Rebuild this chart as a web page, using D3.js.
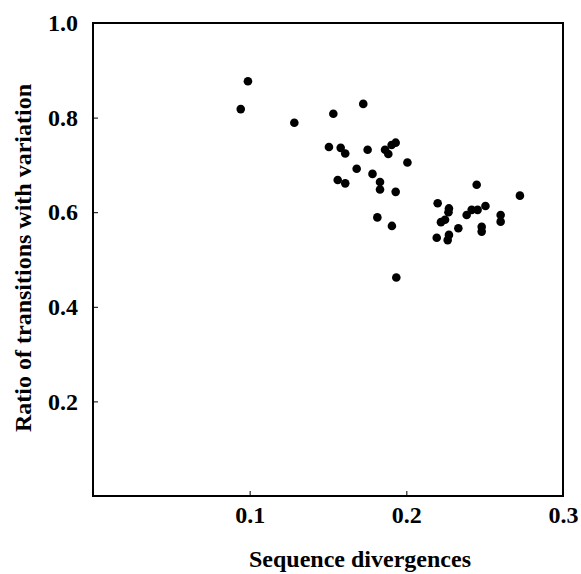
<!DOCTYPE html>
<html><head><meta charset="utf-8">
<script src="https://cdn.jsdelivr.net/npm/d3@7"></script>
<style>body{margin:0;background:#fff}</style>
</head><body>
<svg id="c" width="581" height="574"></svg>
<script>
const xTicks = [0.1, 0.2, 0.3];
const yTicks = [0.2, 0.4, 0.6, 0.8, 1.0];
const divergence = [0.0943,0.0989,0.1285,0.1534,0.1725,0.1506,0.1581,0.1610,0.1753,0.1864,0.1885,0.1906,0.1932,0.2007,0.1683,0.1784,0.1562,0.1610,0.1832,0.1832,0.1932,0.1815,0.1908,0.1936,0.2200,0.2272,0.2269,0.2247,0.2221,0.2385,0.2417,0.2455,0.2505,0.2449,0.2725,0.2602,0.2602,0.2481,0.2481,0.2332,0.2272,0.2264,0.2194];
const ratio = [0.818,0.877,0.789,0.808,0.829,0.738,0.736,0.724,0.732,0.732,0.723,0.742,0.747,0.705,0.692,0.681,0.668,0.661,0.664,0.648,0.643,0.589,0.571,0.462,0.619,0.608,0.600,0.584,0.579,0.594,0.605,0.605,0.613,0.658,0.635,0.594,0.580,0.569,0.559,0.566,0.552,0.541,0.546];

const svg = d3.select("#c");
const L = 93, R = 563, T = 23, B = 496;
const x = d3.scaleLinear().domain([0, 0.3]).range([L, R]);
const y = d3.scaleLinear().domain([0, 1.0]).range([B, T]);
const font = "'Liberation Serif', 'Times New Roman', serif";
const fs = 24;

// ticks (inward)
const xa = svg.append("g").attr("transform", `translate(0,${B})`)
  .call(d3.axisBottom(x).tickValues(xTicks).tickSize(-5).tickPadding(10).tickFormat(d3.format(".1f")));
const ya = svg.append("g").attr("transform", `translate(${L},0)`)
  .call(d3.axisLeft(y).tickValues(yTicks).tickSize(-5).tickPadding(15).tickFormat(d3.format(".1f")));
[xa, ya].forEach(g => {
  g.select(".domain").remove();
  g.selectAll("line").attr("stroke", "#000").attr("stroke-width", 1);
  g.selectAll("text").attr("font-family", font).attr("font-weight", "bold")
    .attr("font-size", fs).attr("fill", "#000");
});
ya.selectAll("text").attr("dy", "0.32em");

// frame
svg.append("rect").attr("x", L).attr("y", T).attr("width", R - L).attr("height", B - T)
  .attr("fill", "none").attr("stroke", "#000").attr("stroke-width", 2);

// points
svg.append("g").selectAll("circle").data(divergence.map((d, i) => [d, ratio[i]]))
  .join("circle").attr("cx", d => x(d[0])).attr("cy", d => y(d[1])).attr("r", 4.3)
  .attr("fill", "#000");

// titles
svg.append("text").attr("x", 360).attr("y", 567).attr("text-anchor", "middle")
  .attr("font-family", font).attr("font-weight", "bold").attr("font-size", fs)
  .text("Sequence divergences");
svg.append("text").attr("transform", `translate(31,258) rotate(-90)`)
  .attr("text-anchor", "middle")
  .attr("font-family", font).attr("font-weight", "bold").attr("font-size", fs)
  .text("Ratio of transitions with variation");
</script>
</body></html>
